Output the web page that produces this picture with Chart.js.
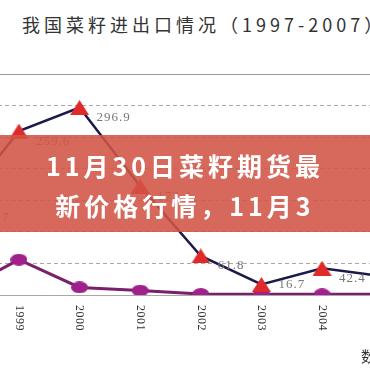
<!DOCTYPE html>
<html>
<head>
<meta charset="utf-8">
<script src="https://cdn.jsdelivr.net/npm/chart.js@4"></script>
<style>
  html, body {
    margin: 0;
    padding: 0;
    width: 370px;
    height: 370px;
    overflow: hidden;
    background: #fff;
    position: relative;
  }
  #title {
    position: absolute;
    left: 22px;
    top: 13px;
    font: 18px/22px "Noto Sans CJK SC", sans-serif;
    letter-spacing: 4px;
    color: #333;
    white-space: nowrap;
  }
  #chart-box {
    position: absolute;
    left: -79px;
    top: 67px;
    width: 499px;
    height: 290px;
  }
  #banner {
    position: absolute;
    left: 0;
    top: 135px;
    width: 370px;
    height: 97px;
    background: rgba(210, 84, 70, 0.88);
    color: #fff;
    font: bold 25px/40px "Noto Sans CJK SC", sans-serif;
    letter-spacing: 4px;
    text-align: center;
    padding-top: 10px;
    box-sizing: border-box;
    white-space: nowrap;
  }
  #source {
    position: absolute;
    left: 361px;
    top: 345px;
    font: 15px "Noto Sans CJK SC", sans-serif;
    color: #333;
    white-space: nowrap;
  }
</style>
</head>
<body>
<div id="title">我国菜籽进出口情况（1997-2007）</div>
<div id="chart-box"><canvas id="trend-chart"></canvas></div>
<div id="banner">11月30日菜籽期货最<br>新价格行情，11月3</div>
<div id="source">数据来源</div>
<script>
// years partly visible in the crop (1998 and 2005 sit just off the edges)
const years = ["1998", "1999", "2000", "2001", "2002", "2003", "2004", "2005"];
const importValues = [137.7, 259.6, 296.9, 172.4, 61.8, 16.7, 42.4, 29.6];
const exportValues = [5, 56, 12, 7, 1.5, 1, 1, 1];
const yMin = 0;
const yMax = 350;
const yStep = 50;

function makeMarker(w, h, color, shape) {
  const c = document.createElement("canvas");
  c.width = w;
  c.height = h;
  const g = c.getContext("2d");
  g.fillStyle = color;
  g.beginPath();
  if (shape === "triangle") {
    g.moveTo(w / 2, 0);
    g.lineTo(w, h);
    g.lineTo(0, h);
    g.closePath();
  } else {
    g.ellipse(w / 2, h / 2, w / 2, h / 2, 0, 0, Math.PI * 2);
  }
  g.fill();
  return c;
}

const triangleMark = makeMarker(19, 15, "#e02a2a", "triangle");
const ellipseMark = makeMarker(17, 12, "#a0208c", "ellipse");

const overlayPlugin = {
  id: "overlay",
  beforeDatasetsDraw(chart) {
    const { ctx, chartArea } = chart;
    ctx.save();
    ctx.strokeStyle = "#9a9a9a";
    ctx.lineWidth = 1;
    ctx.beginPath();
    ctx.moveTo(chartArea.left, chartArea.top + 0.5);
    ctx.lineTo(chartArea.right, chartArea.top + 0.5);
    ctx.stroke();
    ctx.restore();
  },
  afterDatasetsDraw(chart) {
    const { ctx, chartArea } = chart;
    const xScale = chart.scales.x;
    ctx.save();

    // value labels next to the import points, kept clear of the export line
    ctx.font = "13px 'Liberation Serif', serif";
    ctx.letterSpacing = "1px";
    ctx.fillStyle = "#777";
    ctx.textAlign = "left";
    ctx.textBaseline = "middle";
    chart.getDatasetMeta(0).data.forEach((pt, i) => {
      const y = Math.min(pt.y + 10, chartArea.bottom - 10);
      ctx.fillText(importValues[i].toFixed(1), pt.x + 17, y);
    });

    // year labels, turned to read top to bottom
    ctx.font = "12px 'Liberation Serif', serif";
    ctx.letterSpacing = "0.5px";
    ctx.fillStyle = "#333";
    years.forEach((year, i) => {
      ctx.save();
      ctx.translate(xScale.getPixelForValue(i), chartArea.bottom + 10);
      ctx.rotate(Math.PI / 2);
      ctx.fillText(year, 0, 0);
      ctx.restore();
    });

    ctx.restore();
  },
};

new Chart(document.getElementById("trend-chart"), {
  type: "line",
  data: {
    labels: years,
    datasets: [
      {
        label: "进口",
        data: importValues,
        borderColor: "#1b1b4b",
        borderWidth: 2.5,
        pointStyle: triangleMark,
        tension: 0,
        order: 0,
      },
      {
        label: "出口",
        data: exportValues,
        borderColor: "#7a1f6a",
        borderWidth: 3,
        pointStyle: ellipseMark,
        tension: 0,
        order: 1,
      },
    ],
  },
  options: {
    responsive: true,
    maintainAspectRatio: false,
    animation: false,
    layout: {
      padding: { left: 0, right: 0, top: 0, bottom: 62 },
    },
    plugins: {
      legend: { display: false },
      tooltip: { enabled: false },
    },
    scales: {
      x: {
        offset: true,
        grid: { display: false, drawTicks: false },
        border: { display: true, color: "#a8a8a8", width: 1 },
        ticks: { display: false },
        afterFit(scale) {
          scale.height = 0;
        },
      },
      y: {
        min: yMin,
        max: yMax,
        ticks: { display: false, stepSize: yStep },
        grid: { color: "#a8a8a8", drawTicks: false },
        border: { display: false, dash: [4, 3] },
        afterFit(scale) {
          scale.width = 0;
        },
      },
    },
  },
  plugins: [overlayPlugin],
});
</script>
</body>
</html>
